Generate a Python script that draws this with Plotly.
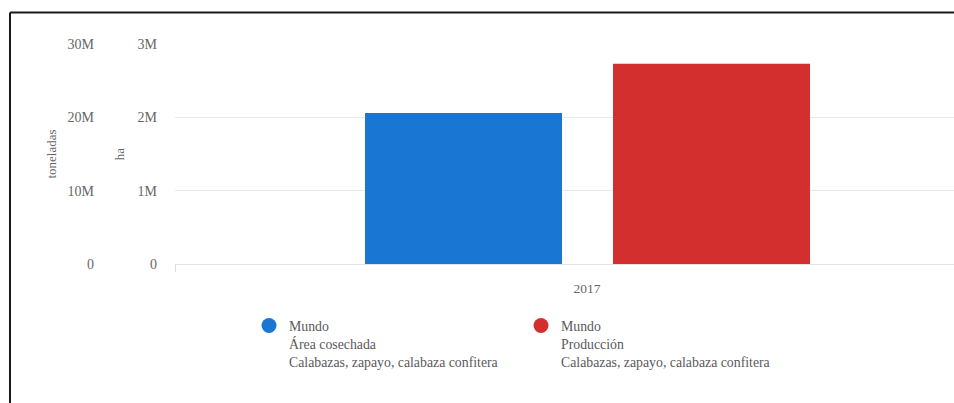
import plotly.graph_objects as go

# ---- data ----
years = ["2017"]
area_ha = [2059000]          # Área cosechada (ha)
production_t = [27300000]    # Producción (toneladas)
series_names = [
    "Mundo<br>Área cosechada<br>Calabazas, zapayo, calabaza confitera",
    "Mundo<br>Producción<br>Calabazas, zapayo, calabaza confitera",
]
colors = ["#1976d2", "#d32f2f"]

W, H = 954, 403
FONT = "Liberation Serif, Times New Roman, serif"
GREY = "#666666"

# pixel helpers -> paper coords
px = lambda x: x / W
py = lambda y: (H - y) / H

plot_left, plot_right = 175, 954
y_zero, y_top = 264, 44
band_px = 824  # width of one category band in px
cat_center = plot_left + band_px / 2
bar_w = 197 / band_px
off_blue = (365 - cat_center) / band_px
off_red = (613 - cat_center) / band_px

fig = go.Figure()
fig.add_trace(go.Bar(x=years, y=area_ha, yaxis="y2", marker=dict(color=colors[0], line=dict(width=0)),
                     width=[bar_w], offset=[off_blue], showlegend=False, name=series_names[0]))
fig.add_trace(go.Bar(x=years, y=production_t, yaxis="y", marker=dict(color=colors[1], line=dict(width=0)),
                     width=[bar_w], offset=[off_red], showlegend=False, name=series_names[1]))
# legend entries (circle symbols)
for n, c in zip(series_names, colors):
    fig.add_trace(go.Scatter(x=[None], y=[None], mode="markers", name=n,
                             marker=dict(color=c, size=15, symbol="circle")))

fig.update_layout(
    width=W, height=H,
    margin=dict(l=0, r=0, t=0, b=0, autoexpand=False),
    paper_bgcolor="white", plot_bgcolor="white",
    font=dict(family=FONT, color=GREY, size=14),
    barmode="overlay",
    xaxis=dict(
        type="category", domain=[px(plot_left), px(plot_right)],
        range=[-0.5, -0.5 + (plot_right - plot_left) / band_px],
        tickson="boundaries", ticks="outside", ticklen=7, tickcolor="#dddddd",
        showline=True, linecolor="#e3e3e3", linewidth=1, showgrid=False,
        ticklabelstandoff=12, automargin=False,
        tickfont=dict(size=13.5, color=GREY), fixedrange=True,
    ),
    yaxis2=dict(
        anchor="x", side="left", domain=[py(y_zero), py(y_top)],
        range=[0, 3e6], tickvals=[0, 1e6, 2e6, 3e6], tickformat="~s",
        showgrid=True, gridcolor="#e8e8e8", zeroline=False, showline=False,
        ticklabelstandoff=17, automargin=False,
        title=dict(text="ha", standoff=9, font=dict(size=13, color=GREY)),
        tickfont=dict(size=14, color=GREY),
    ),
    yaxis=dict(
        anchor="free", overlaying="y2", side="left", position=px(111),
        range=[0, 3e7], tickvals=[0, 1e7, 2e7, 3e7], tickformat="~s",
        showgrid=False, zeroline=False, showline=False,
        ticklabelstandoff=17, automargin=False,
        title=dict(text="toneladas", standoff=6, font=dict(size=13, color=GREY)),
        tickfont=dict(size=14, color=GREY),
    ),
    legend=dict(
        orientation="h", x=px(249), y=py(310), xanchor="left", yanchor="top",
        valign="top", entrywidth=227, entrywidthmode="pixels",
        font=dict(family=FONT, size=13.8, color="#5a5a5a"), bgcolor="rgba(0,0,0,0)",
        itemclick=False,
    ),
    shapes=[
        dict(type="line", xref="paper", yref="paper", x0=px(10), x1=1, y0=py(12.5), y1=py(12.5),
             line=dict(color="#1a1a1a", width=2)),
        dict(type="line", xref="paper", yref="paper", x0=px(10), x1=px(10), y0=py(12.5), y1=0,
             line=dict(color="#1a1a1a", width=2)),
    ],
)

fig.write_html("out.html")
